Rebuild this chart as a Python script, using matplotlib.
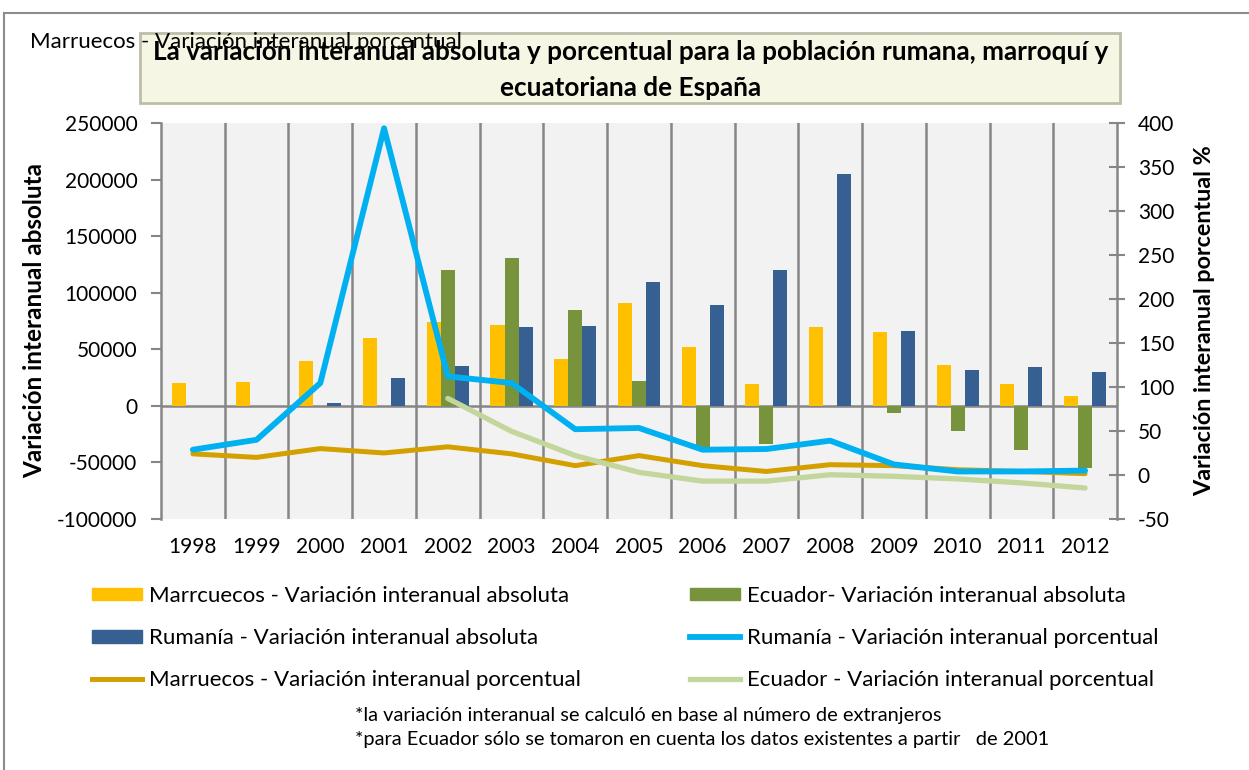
import matplotlib.pyplot as plt
import numpy as np
from matplotlib.patches import Patch, Rectangle
from matplotlib.lines import Line2D

plt.rcParams['font.family'] = ['Lato', 'DejaVu Sans']
plt.rcParams['axes.unicode_minus'] = False

years = ['1998', '1999', '2000', '2001', '2002', '2003', '2004', '2005',
         '2006', '2007', '2008', '2009', '2010', '2011', '2012']

# absolute year-on-year change (left axis)
marruecos_abs = [20500, 21500, 40000, 60000, 74000, 71300, 41500, 90800,
                 51900, 19700, 69800, 65400, 36000, 19700, 9100]
ecuador_abs = [0, 0, 0, 0, 120000, 130500, 85000, 21700,
               -36000, -34000, 0, -6500, -22000, -39000, -55000]
rumania_abs = [0, 0, 2500, 25000, 35000, 69500, 70500, 109500,
               89500, 120000, 204500, 66500, 32000, 34000, 29600]

# percentage change (right axis)
rumania_pct = [28.7, 40, 104.5, 394, 112, 104.5, 52, 53.4,
               28.7, 29.5, 39, 12, 4, 4, 5]
marruecos_pct = [24, 20, 30, 25, 32, 24, 10.6, 22,
                 10.6, 4, 11.7, 10.6, 6, 4, 1.5]
ecuador_years = years[4:]
ecuador_pct = [87, 49.6, 22, 3, -7, -7, 0.3, -1.5, -4.5, -9, -14.8]

c_yel = '#ffc000'
c_grn = '#77933c'
c_blu = '#366092'
c_lblu = '#00b0f0'
c_gold = '#d4a000'
c_lgrn = '#c3d69b'
grey = '#868686'

fig = plt.figure(figsize=(12.49, 7.70), dpi=100)
ax = fig.add_axes([0.1289, 0.326, 0.7654, 0.5143])
ax.set_facecolor('#f2f2f2')

x = np.arange(len(years))
w = 0.22
ax.bar(x - w, marruecos_abs, w, color=c_yel, zorder=2)
ax.bar(x, ecuador_abs, w, color=c_grn, zorder=2)
ax.bar(x + w, rumania_abs, w, color=c_blu, zorder=2)

ax.set_xlim(-0.5, len(years) - 0.5)
ax.set_ylim(-100000, 250000)
ax.set_yticks(range(-100000, 250001, 50000))
ax.set_xticks(x)
ax.set_xticklabels(years, fontsize=15)
ax.tick_params(axis='x', length=0, pad=13)
ax.tick_params(axis='y', labelsize=15, length=7, color=grey, width=1.5, pad=10)
for xv in np.arange(0.5, len(years) - 1, 1):
    ax.axvline(xv, color=grey, lw=1.8, zorder=1)
ax.axhline(0, color=grey, lw=1.8, zorder=1)
for s in ['top', 'right', 'bottom']:
    ax.spines[s].set_visible(False)
ax.spines['left'].set_color(grey)
ax.spines['left'].set_linewidth(1.8)
ax.set_ylabel('Variación interanual absoluta', fontsize=17.5, fontweight='bold', labelpad=8)

ax2 = ax.twinx()
ax2.set_ylim(-50, 400)
ax2.set_yticks(range(-50, 401, 50))
ax2.tick_params(axis='y', labelsize=15, length=12, direction='inout', color=grey, width=1.5, pad=9)
for s in ['top', 'left', 'bottom']:
    ax2.spines[s].set_visible(False)
ax2.spines['right'].set_color(grey)
ax2.spines['right'].set_linewidth(1.8)
ax2.set_ylabel('Variación interanual porcentual %', fontsize=16.8, fontweight='bold', labelpad=14)

ax2.plot(x, marruecos_pct, color=c_gold, lw=3.6, solid_capstyle='round', zorder=3)
ax2.plot(x[4:], ecuador_pct, color=c_lgrn, lw=3.8, solid_capstyle='round', zorder=3)
ax2.plot(x, rumania_pct, color=c_lblu, lw=4.2, solid_capstyle='round', zorder=4)

# outer frame
fig.add_artist(Line2D([4 / 1249, 1], [1 - 13 / 770] * 2, color='#8c8c8c', lw=1.5))
fig.add_artist(Line2D([4 / 1249] * 2, [0, 1 - 13 / 770], color='#8c8c8c', lw=1.5))

fig.text(30 / 1249, 1 - 42 / 770, 'Marruecos - Variación interanual porcentual',
         fontsize=16, va='center', ha='left')
fig.add_artist(Rectangle((140 / 1249, 1 - 103 / 770), 980 / 1249, 70 / 770,
                         transform=fig.transFigure, facecolor='#f6f6e4',
                         edgecolor='#bdbdaa', lw=2))
fig.text(631 / 1249, 1 - 70 / 770,
         'La variación interanual absoluta y porcentual para la población rumana, marroquí y\necuatoriana de España',
         fontsize=18.8, fontweight='bold', ha='center', va='center', linespacing=1.6)

h1 = [Patch(color=c_yel), Patch(color=c_blu), Line2D([], [], color=c_gold, lw=3.6)]
l1 = ['Marrcuecos - Variación interanual absoluta', 'Rumanía - Variación interanual absoluta',
      'Marruecos - Variación interanual porcentual']
h2 = [Patch(color=c_grn), Line2D([], [], color=c_lblu, lw=4.2), Line2D([], [], color=c_lgrn, lw=3.8)]
l2 = ['Ecuador- Variación interanual absoluta', 'Rumanía - Variación interanual porcentual',
      'Ecuador - Variación interanual porcentual']
for hh, ll, xl in [(h1, l1, 92), (h2, l2, 690)]:
    fig.legend(hh, ll, loc='upper left', bbox_to_anchor=(xl / 1249, 1 - 586 / 770),
               frameon=False, fontsize=16, borderpad=0, borderaxespad=0, handlelength=2.25,
               handleheight=0.5, handletextpad=0.3, labelspacing=1.0)

fig.text(355 / 1249, 1 - 715 / 770, '*la variación interanual se calculó en base al número de extranjeros',
         fontsize=14.4, va='center')
fig.text(355 / 1249, 1 - 740 / 770, '*para Ecuador sólo se tomaron en cuenta los datos existentes a partir   de 2001',
         fontsize=14.4, va='center')

fig.savefig('out.png', dpi=100)
